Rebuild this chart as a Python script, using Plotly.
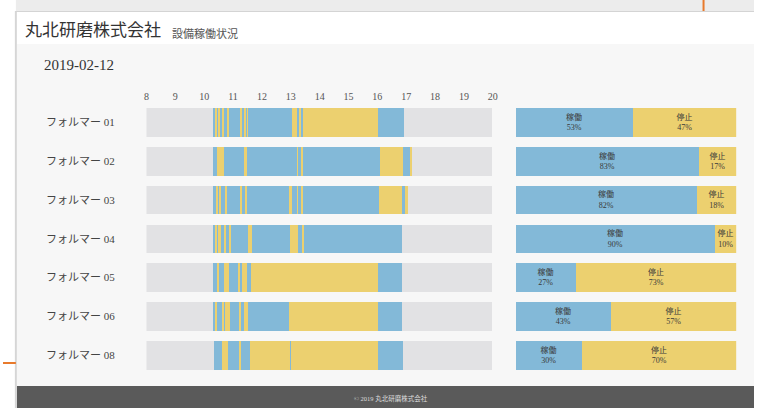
import plotly.graph_objects as go

W, H = 759, 408

# ---------------- data ----------------
machines = ["フォルマー 01", "フォルマー 02", "フォルマー 03", "フォルマー 04",
            "フォルマー 05", "フォルマー 06", "フォルマー 08"]
hour_ticks = [8, 9, 10, 11, 12, 13, 14, 15, 16, 17, 18, 19, 20]
report_date = "2019-02-12"

f01_times = ["10:20", "10:24", "10:26", "10:31", "10:33", "10:39", "10:41", "10:50", "10:53", "11:17", "11:19",
             "11:24", "11:26", "11:30", "11:32", "13:03", "13:14", "13:19", "13:22", "13:27", "16:03", "16:57"]
f01_states = ["稼働", "停止", "稼働", "停止", "稼働", "停止", "稼働", "停止", "稼働", "停止", "稼働",
              "停止", "稼働", "停止", "稼働", "停止", "稼働", "停止", "稼働", "停止", "稼働"]

f02_times = ["10:20", "10:27", "10:42", "11:24", "11:29", "13:14", "13:15", "13:24", "13:25", "16:07", "16:55",
             "17:09", "17:11"]
f02_states = ["稼働", "停止", "稼働", "停止", "稼働", "停止", "稼働", "停止", "稼働", "停止", "稼働", "停止"]

f03_times = ["10:20", "10:26", "10:29", "10:33", "10:36", "10:45", "10:49", "11:16", "11:18", "11:27", "11:31",
             "12:58", "13:03", "13:14", "13:15", "13:24", "13:25", "16:05", "16:53", "17:00", "17:04"]
f03_states = ["稼働", "停止", "稼働", "停止", "稼働", "停止", "稼働", "停止", "稼働", "停止",
              "稼働", "停止", "稼働", "停止", "稼働", "停止", "稼働", "停止", "稼働", "停止"]

f04_times = ["10:20", "10:24", "10:27", "10:30", "10:35", "10:43", "10:45", "10:53", "10:55", "11:33", "11:41",
             "13:00", "13:15", "13:26", "13:28", "16:53"]
f04_states = ["稼働", "停止", "稼働", "停止", "稼働", "停止", "稼働", "停止",
              "稼働", "停止", "稼働", "停止", "稼働", "停止", "稼働"]

f05_times = ["10:20", "10:28", "10:31", "10:43", "10:53", "11:13", "11:15", "11:20", "11:29", "11:38",
             "12:59", "13:00", "16:03", "16:53"]
f05_states = ["稼働", "停止", "稼働", "停止", "稼働", "停止", "稼働", "停止", "稼働", "停止", "稼働", "停止", "稼働"]

f06_times = ["10:20", "10:24", "10:26", "10:38", "10:41", "10:45", "10:55", "11:14", "11:17", "11:24",
             "11:33", "12:58", "16:03", "16:53"]
f06_states = ["稼働", "停止", "稼働", "停止", "稼働", "停止", "稼働", "停止", "稼働", "停止", "稼働", "停止", "稼働"]

f08_times = ["10:22", "10:39", "10:50", "11:14", "11:17", "11:36", "13:00", "13:01", "16:03", "16:55"]
f08_states = ["稼働", "停止", "稼働", "停止", "稼働", "停止", "稼働", "停止", "稼働"]

run_pct = [53, 83, 82, 90, 27, 43, 30]
stop_pct = [47, 17, 18, 10, 73, 57, 70]

# ---------------- styles ----------------
BLUE = "#83b9d8"
YELLOW = "#ecd06f"
TRACK = "#e2e2e4"
BODY = "#f7f7f7"
FONT = "Liberation Serif, Noto Sans CJK JP, serif"


def px_x(x):
    return x / W


def px_y(y):
    return 1 - y / H


def to_h(t):
    hh, mm = t.split(":")
    return int(hh) + int(mm) / 60.0


rows = [(f01_times, f01_states), (f02_times, f02_states), (f03_times, f03_states),
        (f04_times, f04_states), (f05_times, f05_states), (f06_times, f06_states),
        (f08_times, f08_states)]

BAR_W = 0.74
fig = go.Figure()

# background track
fig.add_bar(y=machines, x=[hour_ticks[-1] - hour_ticks[0]] * len(machines), base=[hour_ticks[0]] * len(machines),
            orientation="h", marker=dict(color=TRACK, line=dict(width=0)), width=BAR_W,
            hoverinfo="skip", showlegend=False)

for state, color in [("稼働", BLUE), ("停止", YELLOW)]:
    ys, bases, durs = [], [], []
    for m, (times, states) in zip(machines, rows):
        for i, s in enumerate(states):
            if s == state:
                a, b = to_h(times[i]), to_h(times[i + 1])
                ys.append(m)
                bases.append(a)
                durs.append(b - a)
    fig.add_bar(y=ys, x=durs, base=bases, orientation="h",
                marker=dict(color=color, line=dict(width=0)), width=BAR_W,
                name=state, showlegend=False)

# ratio bars
fig.add_bar(y=machines, x=run_pct, base=[0] * len(machines), orientation="h", xaxis="x2", yaxis="y",
            marker=dict(color=BLUE, line=dict(width=0)), width=BAR_W,
            text=[f"稼働<br>{p}%" for p in run_pct], textposition="inside", insidetextanchor="middle",
            textangle=0, textfont=dict(size=8, color="#3a3a3a", family=FONT), showlegend=False)
fig.add_bar(y=machines, x=stop_pct, base=run_pct, orientation="h", xaxis="x2", yaxis="y",
            marker=dict(color=YELLOW, line=dict(width=0)), width=BAR_W,
            text=[f"停止<br>{p}%" for p in stop_pct], textposition="inside", insidetextanchor="middle",
            textangle=0, textfont=dict(size=8, color="#3a3a3a", family=FONT), showlegend=False)

shapes = [
    # top shadow strip
    dict(type="rect", xref="paper", yref="paper", x0=px_x(13), x1=1, y0=px_y(11), y1=1,
         fillcolor="#ececec", line=dict(width=0), layer="below"),
    # card header
    dict(type="rect", xref="paper", yref="paper", x0=px_x(14), x1=1, y0=px_y(44), y1=px_y(11),
         fillcolor="#ffffff", line=dict(width=0), layer="below"),
    # body
    dict(type="rect", xref="paper", yref="paper", x0=px_x(14), x1=1, y0=px_y(386), y1=px_y(44),
         fillcolor=BODY, line=dict(width=0), layer="below"),
    # footer
    dict(type="rect", xref="paper", yref="paper", x0=px_x(14), x1=1, y0=0, y1=px_y(386),
         fillcolor="#5a5a5a", line=dict(width=0), layer="below"),
    # card left edge shadow
    dict(type="rect", xref="paper", yref="paper", x0=px_x(12), x1=px_x(14), y0=0, y1=px_y(11),
         fillcolor="#d6d6d6", line=dict(width=0), layer="below"),
    dict(type="line", xref="paper", yref="paper", x0=px_x(13), x1=1, y0=px_y(11.5), y1=px_y(11.5),
         line=dict(color="#d4d4d4", width=1), layer="below"),
    # orange accents
    dict(type="line", xref="paper", yref="paper", x0=px_x(708), x1=px_x(708), y0=px_y(0), y1=px_y(11),
         line=dict(color="#e87a2c", width=2), layer="above"),
    dict(type="line", xref="paper", yref="paper", x0=0, x1=px_x(13), y0=px_y(363), y1=px_y(363),
         line=dict(color="#e87a2c", width=2), layer="above"),
]

annotations = [
    dict(text="丸北研磨株式会社", x=px_x(20), y=px_y(31), xref="paper", yref="paper", xanchor="left",
         yanchor="middle", showarrow=False, font=dict(size=17, color="#333333", family=FONT)),
    dict(text="設備稼働状況", x=px_x(169), y=px_y(33), xref="paper", yref="paper", xanchor="left",
         yanchor="middle", showarrow=False, font=dict(size=11, color="#555555", family=FONT)),
    dict(text=report_date, x=px_x(39), y=px_y(65), xref="paper", yref="paper", xanchor="left",
         yanchor="middle", showarrow=False, font=dict(size=15, color="#333333", family=FONT)),
    dict(text="© 2019 丸北研磨株式会社", x=px_x(392), y=px_y(398), xref="paper", yref="paper",
         xanchor="center", yanchor="middle", showarrow=False, font=dict(size=6.5, color="#dddddd", family=FONT)),
]
for m in machines:
    annotations.append(dict(text=m, x=px_x(41), y=m, xref="paper", yref="y", xanchor="left",
                            yanchor="middle", showarrow=False, font=dict(size=11, color="#444444", family=FONT)))

fig.update_layout(
    width=W, height=H, margin=dict(l=0, r=0, t=0, b=0),
    paper_bgcolor="#ffffff", plot_bgcolor="rgba(0,0,0,0)",
    barmode="overlay", bargap=0,
    font=dict(family=FONT),
    hovermode=False,
    xaxis=dict(domain=[px_x(145), px_x(495)], range=[hour_ticks[0], hour_ticks[-1]], side="top",
               tickmode="array", tickvals=hour_ticks, ticktext=[str(h) for h in hour_ticks],
               showgrid=False, zeroline=False, showline=False, ticks="",
               tickfont=dict(size=10, color="#555555", family=FONT), fixedrange=True),
    xaxis2=dict(domain=[px_x(518), px_x(741)], range=[0, 100], visible=False, fixedrange=True),
    yaxis=dict(domain=[px_y(374.4), px_y(102.6)], type="category", categoryorder="array",
               categoryarray=machines, range=[len(machines) - 0.5, -0.5], showticklabels=False,
               showgrid=False, zeroline=False, showline=False, ticks="", fixedrange=True),
    shapes=shapes, annotations=annotations,
)

fig.write_html("out.html", config={"displayModeBar": False},
               post_script="document.body.style.margin='0';document.body.style.overflow='hidden';")
